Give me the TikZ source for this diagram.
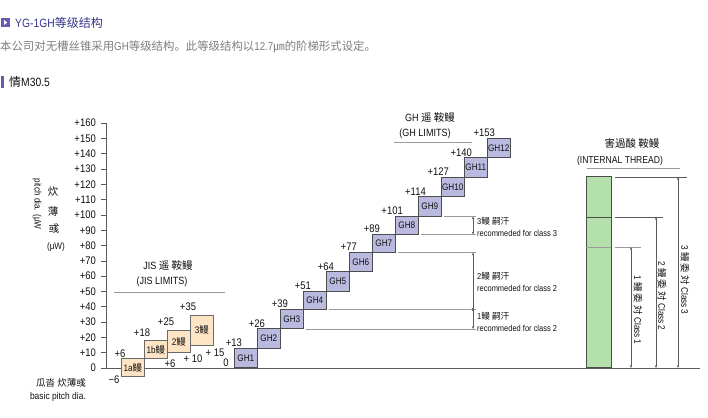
\documentclass[tikz,border=0pt]{standalone}
\usepackage{fontspec}
\setmainfont{Liberation Sans}[FakeStretch=0.86]
\newfontfamily\cjk{Noto Sans CJK SC}
\usetikzlibrary{arrows.meta}
\definecolor{hdr}{HTML}{35348E}
\definecolor{iconc}{HTML}{6A5AAE}
\definecolor{descc}{HTML}{7F7F7F}
\definecolor{jisfill}{HTML}{FCE4C4}
\definecolor{jisedge}{HTML}{6A6A6A}
\definecolor{ghfill}{HTML}{BABAE0}
\definecolor{boxedge}{HTML}{4D4D4D}
\definecolor{grnfill}{HTML}{B4E0AC}
\definecolor{guidec}{HTML}{9A9A9A}
\definecolor{axisc}{HTML}{5A5A5A}
\definecolor{txtc}{HTML}{111111}
\newcommand\fTick{\fontsize{11}{12}\selectfont}
\newcommand\fBox{\fontsize{9.5}{10}\selectfont}
\newcommand\fSmall{\fontsize{8.7}{9.5}\selectfont}
\newcommand\fTitle{\fontsize{10.5}{11.5}\selectfont}
\newcommand\fHead{\fontsize{12}{13}\selectfont}
\newcommand\fDesc{\fontsize{11.4}{13}\selectfont}
\begin{document}
\begin{tikzpicture}[x=1pt,y=-1pt,
  ghbox/.style={draw=boxedge, fill=ghfill, line width=0.6pt, minimum width=23pt, inner sep=0pt, anchor=south west, font=\fBox, text=txtc},
  jisbox/.style={draw=jisedge, fill=jisfill, line width=0.6pt, minimum width=23pt, inner sep=0pt, anchor=south west, font=\fBox, text=txtc},
  grnbox/.style={draw=boxedge, fill=grnfill, line width=0.6pt, minimum width=25pt, inner sep=0pt, anchor=south west},
  guide/.style={draw=guidec, line width=0.6pt},
  axisline/.style={draw=axisc, line width=0.7pt},
  dimarr/.style={draw=axisc, line width=0.5pt, {Stealth[length=3pt,width=2.4pt]}-{Stealth[length=3pt,width=2.4pt]}},
  val/.style={font=\fTick, inner sep=0pt, text=txtc},
  small/.style={font=\fSmall, inner sep=0pt, anchor=west, text=txtc},
  tit/.style={font=\fTitle, inner sep=0pt, text=txtc}
]
\useasboundingbox[fill=white] (0,0) rectangle (708,417);

% header
\fill[iconc] (1,18) rectangle (9.5,27);
\fill[white] (4,20) -- (7.2,22.5) -- (4,25) -- cycle;
\node[anchor=west, inner sep=0pt, text=hdr, font=\fHead] (head) at (15,23) {YG-1GH{\cjk 等级结构}};
\node[anchor=west, inner sep=0pt, text=descc, font=\fDesc] (desc) at (0,47) {{\cjk 本公司对无槽丝锥采用}GH{\cjk 等级结构。此等级结构以}12.7{\cjk ㎛的阶梯形式设定。}};
\fill[iconc] (1,76) rectangle (4,88);
\node[anchor=west, inner sep=0pt, text=txtc, font=\fHead] (sub) at (9,82) {{\cjk 情}M30.5};

% axis
\coordinate (axtop) at (106,123);
\coordinate (axbot) at (106,368);
\coordinate (blR) at (700,368);
\draw[axisline] (axtop) -- (axbot);
\draw[axisline] (axbot) -- (blR);
\foreach \v in {0,10,...,160} {
  \coordinate (tk\v) at (101,{368-1.53*\v});
  \coordinate (tke\v) at (106,{368-1.53*\v});
  \draw[axisline] (tk\v) -- (tke\v);
  \node[val, anchor=east] (tl\v) at (96,{368-1.53*\v}) {\ifnum\v=0 0\else +\v\fi};
}

% axis titles
\node[tit, font=\fontsize{9.5}{10}\selectfont, rotate=-90] (ytit) at (37,204) {pitch dia. (μW};
\node[tit] (yc1) at (53,192) {\cjk 炊};
\node[tit] (yc2) at (53,211) {\cjk 薄};
\node[tit] (yc3) at (54,229) {\cjk 彧};
\node[tit, font=\fontsize{9.5}{10}\selectfont] (yc4) at (56,247) {(μW)};
\node[tit, anchor=east, font=\fontsize{9.5}{10}\selectfont] (bp1) at (86,383) {\cjk 瓜沓 炊薄彧};
\node[tit, anchor=east, font=\fontsize{9.8}{10}\selectfont] (bp2) at (86,397) {basic pitch dia.};

% JIS boxes
\node[jisbox, minimum height=18pt] (j1a) at (121,{368+1.5*6}) {1a{\cjk 鳗}};
\node[jisbox, minimum height=18pt] (j1b) at (144,{368-1.5*6}) {1b{\cjk 鳗}};
\node[jisbox, minimum height=22.5pt] (j2) at (167,{368-1.5*10}) {2{\cjk 鳗}};
\node[jisbox, minimum height=30pt] (j3) at (190,{368-1.5*15}) {3{\cjk 鳗}};
\node[val] (jv1) at (120,354) {+6};
\node[val] (jv2) at (114,380) {−6};
\node[val] (jv3) at (142,333) {+18};
\node[val] (jv4) at (166,322) {+25};
\node[val] (jv5) at (188,307) {+35};
\node[val] (jv6) at (170,364) {+6};
\node[val] (jv7) at (193,359) {+ 10};
\node[val] (jv8) at (215,353) {+ 15};
\node[val] (jv9) at (226,363) {0};
\node[tit] (jist) at (168,266) {JIS {\cjk 遥 鞍鳗}};
\node[tit] (jisl) at (162,282) {(JIS LIMITS)};
\coordinate (jlA) at (114,292);
\coordinate (jlB) at (225,292);
\draw[guide] (jlA) -- (jlB);

% GH boxes
\foreach \i/\b/\t in {1/0/13,2/13/26,3/26/39,4/39/51,5/51/64,6/64/77,7/77/89,8/89/101,9/101/114,10/114/127,11/127/140,12/140/153} {
  \node[ghbox, minimum height={1.5*(\t-\b)}] (gh\i) at ({234+23*(\i-1)},{368-1.5*\b}) {GH\i};
  \node[val, anchor=south east] (ghv\i) at ({234+23*(\i-1)+8},{368-1.5*\t-1.5}) {+\t};
}
\node[tit] (ght) at (430,118) {GH {\cjk 遥 鞍鳗}};
\node[tit] (ghl) at (425,134) {(GH LIMITS)};
\coordinate (glA) at (394,142);
\coordinate (glB) at (472,142);
\draw[guide] (glA) -- (glB);

% recommended class guides
\foreach \n/\v in {9/101,8/89,7/77,4/39,3/26} {
  \coordinate (r\v) at (476,{368-1.5*\v});
  \coordinate (a\v) at (473,{368-1.5*\v});
  \draw[guide] ([xshift=2pt]gh\n.south east) -- (r\v);
}
\draw[dimarr] (a101) -- (a89);
\draw[dimarr] (a77) -- ([yshift=-1pt]a39);
\draw[dimarr] ([yshift=1pt]a39) -- (a26);
\node[small] (c3a) at (477,221) {3{\cjk 鳗 嗣汗}};
\node[small] (c3b) at (477,233) {recommeded for class 3};
\node[small] (c2a) at (477,276) {2{\cjk 鳗 嗣汗}};
\node[small] (c2b) at (477,288) {recommeded for class 2};
\node[small] (c1a) at (477,316) {1{\cjk 鳗 嗣汗}};
\node[small] (c1b) at (477,328) {recommeded for class 2};

% internal thread
\node[tit] (itt) at (632,143) {\cjk 害過酸 鞍鳗};
\node[tit, font=\fontsize{10}{11}\selectfont] (itl) at (620,161) {(INTERNAL THREAD)};
\coordinate (ilA) at (587,168);
\coordinate (ilB) at (680,168);
\draw[guide] (ilA) -- (ilB);
\node[grnbox, minimum height=191pt] (gb) at (586,368) {};
\coordinate (d1l) at (586,217);
\coordinate (d1r) at (611,217);
\coordinate (d2l) at (586,247);
\coordinate (d2r) at (611,247);
\draw[draw=boxedge, line width=0.6pt] (d1l) -- (d1r);
\draw[draw=guidec, line width=0.6pt] (d2l) -- (d2r);
\coordinate (e3a) at (615,177);
\coordinate (e3b) at (687,177);
\coordinate (e2a) at (615,217);
\coordinate (e2b) at (663,217);
\coordinate (e1a) at (615,247);
\coordinate (e1b) at (641,247);
\draw[draw=axisc, line width=0.6pt] (e3a) -- (e3b);
\draw[draw=axisc, line width=0.6pt] (e2a) -- (e2b);
\draw[guide] (e1a) -- (e1b);
\coordinate (k1t) at (631,247);
\coordinate (k1b) at (631,368);
\coordinate (k2t) at (656,217);
\coordinate (k2b) at (656,368);
\coordinate (k3t) at (678,177);
\coordinate (k3b) at (678,368);
\draw[dimarr] (k1t) -- (k1b);
\draw[dimarr] (k2t) -- (k2b);
\draw[dimarr] (k3t) -- (k3b);
\node[tit, font=\fontsize{9.5}{10}\selectfont, rotate=-90] (cl1) at (638,310) {1 {\cjk 鳗 委 対} Class 1};
\node[tit, font=\fontsize{9.5}{10}\selectfont, rotate=-90] (cl2) at (662,296) {2 {\cjk 鳗 委 対} Class 2};
\node[tit, font=\fontsize{9.5}{10}\selectfont, rotate=-90] (cl3) at (685,280) {3 {\cjk 鳗 委 対} Class 3};
\end{tikzpicture}
\end{document}
